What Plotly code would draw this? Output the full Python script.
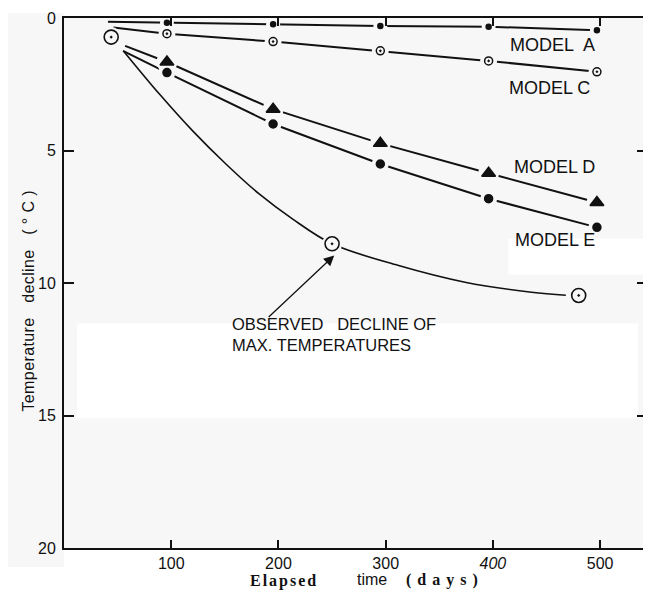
import plotly.graph_objects as go

# ---- data ----
model_days = [96, 195, 295, 396, 497]
model_a = [0.18, 0.24, 0.30, 0.33, 0.46]
model_c = [0.59, 0.89, 1.24, 1.62, 2.03]
model_d = [1.66, 3.44, 4.73, 5.86, 6.96]
model_e = [2.06, 4.00, 5.51, 6.82, 7.90]

# line start points (no marker)
start_days = {"A": 41, "C": 46, "D": 57, "E": 55}
start_vals = {"A": 0.14, "C": 0.36, "D": 1.05, "E": 1.24}

obs_days = [44, 250, 480]
obs_decline = [0.72, 8.52, 10.47]

curve_days = [56, 89, 120, 151, 182, 213, 250, 312, 374, 436, 468]
curve_decline = [1.27, 2.87, 4.26, 5.51, 6.64, 7.58, 8.52, 9.34, 9.97, 10.35, 10.46]

x_ticks = [100, 200, 300, 400, 500]
x_ticktext = ["100", "200", "300", "<i>400</i>", "500"]
y_ticks = [0, 5, 10, 15, 20]

BG = "#f7f7f7"
INK = "#111111"
FONT = "Liberation Sans"

series = [
    ("A", model_a, "circle", 5),
    ("C", model_c, "circle-open-dot", 8),
    ("D", model_d, "triangle-up", 12),
    ("E", model_e, "circle", 8),
]

fig = go.Figure()

# lines
for name, vals, sym, size in series:
    fig.add_trace(go.Scatter(
        x=[start_days[name]] + model_days, y=[start_vals[name]] + vals,
        mode="lines", line=dict(color=INK, width=2), hoverinfo="skip"))
fig.add_trace(go.Scatter(
    x=curve_days, y=curve_decline, mode="lines",
    line=dict(color=INK, width=1.6, shape="spline", smoothing=1.0), hoverinfo="skip"))

# gaps around markers (background-coloured discs)
for name, vals, sym, size in series:
    fig.add_trace(go.Scatter(
        x=model_days, y=vals, mode="markers",
        marker=dict(symbol="circle", size=size + 9, color=BG, line=dict(width=0)),
        hoverinfo="skip"))
fig.add_trace(go.Scatter(
    x=obs_days, y=obs_decline, mode="markers",
    marker=dict(symbol="circle", size=20, color=BG, line=dict(width=0)), hoverinfo="skip"))

# markers
for name, vals, sym, size in series:
    fig.add_trace(go.Scatter(
        x=model_days, y=vals, mode="markers", name="Model " + name,
        marker=dict(symbol=sym, size=size, color=INK, line=dict(color=INK, width=1.5))))
fig.add_trace(go.Scatter(
    x=obs_days, y=obs_decline, mode="markers", name="Observed",
    marker=dict(symbol="circle-open-dot", size=14, color=INK, line=dict(color=INK, width=1.6))))

# page has an 8px body margin: figure is placed at (8, 8)
OFF = 8
W, H = 651 - OFF, 592 - OFF
L, R, T, B = 64 - OFF, 2, 17 - OFF, 44
pw, ph = W - L - R, H - T - B


def px(xp):  # page pixel -> paper x
    return (xp - OFF - L) / pw


def py(yp):  # page pixel -> paper y
    return (H - B - (yp - OFF)) / ph


shapes = [
    dict(type="rect", xref="paper", yref="paper", x0=px(7), x1=px(64), y0=py(567), y1=py(12),
         fillcolor=BG, line=dict(width=0), layer="below"),
    dict(type="rect", xref="paper", yref="paper", x0=px(77), x1=px(640), y0=py(418), y1=py(323),
         fillcolor="white", line=dict(width=0), layer="below"),
    dict(type="rect", xref="paper", yref="paper", x0=px(510), x1=px(649), y0=py(274), y1=py(238),
         fillcolor="white", line=dict(width=0), layer="below"),
]

label_font = dict(family=FONT, size=18, color=INK)
SERIF_B = "font-family:'Liberation Serif';font-weight:bold;"
annotations = [
    dict(x=456, y=1.02, text="MODEL\u00a0 A", showarrow=False, font=label_font, xanchor="center"),
    dict(x=453, y=2.64, text="MODEL C", showarrow=False, font=label_font, xanchor="center"),
    dict(x=457, y=5.61, text="MODEL D", showarrow=False, font=label_font, xanchor="center"),
    dict(x=458, y=8.36, text="MODEL E", showarrow=False, font=label_font, xanchor="center"),
    dict(xref="paper", yref="paper", x=px(231), y=py(334), xanchor="left", yanchor="middle",
         align="left", showarrow=False,
         text="OBSERVED\u00a0\u00a0 DECLINE OF<br>MAX. TEMPERATURES",
         font=dict(family=FONT, size=16.5, color=INK)),
    dict(x=252, y=8.96, ax=-67, ay=63, text="", showarrow=True, arrowhead=2, arrowsize=1.6,
         arrowwidth=1.3, arrowcolor=INK, standoff=0),
    # y axis title
    dict(xref="paper", yref="paper", x=px(28), y=py(300), textangle=-90, showarrow=False,
         xanchor="center", yanchor="middle",
         text="<span style=\"letter-spacing:0.4px\">Temperature\u00a0\u00a0 decline\u00a0\u00a0 ( ° C )</span>",
         font=dict(family=FONT, size=16, color=INK)),
    # x axis title pieces
    dict(xref="paper", yref="paper", x=px(285), y=py(581), showarrow=False, borderpad=0,
         xanchor="center", yanchor="middle",
         text="<span style=\"" + SERIF_B + "letter-spacing:2px\">Elapsed</span>",
         font=dict(family=FONT, size=16, color=INK)),
    dict(xref="paper", yref="paper", x=px(373), y=py(580), showarrow=False, borderpad=0,
         xanchor="center", yanchor="middle", text="time",
         font=dict(family=FONT, size=16, color=INK)),
    dict(xref="paper", yref="paper", x=px(446), y=py(580), showarrow=False, borderpad=0,
         xanchor="center", yanchor="middle",
         text="<span style=\"" + SERIF_B + "letter-spacing:6px\">(days)</span>",
         font=dict(family=FONT, size=16, color=INK)),
]

fig.update_layout(
    width=W, height=H, autosize=False,
    margin=dict(l=L, r=R, t=T, b=B),
    paper_bgcolor="white", plot_bgcolor=BG,
    showlegend=False,
    shapes=shapes, annotations=annotations,
    xaxis=dict(range=[0, 543.7], tickvals=x_ticks, ticktext=x_ticktext,
               ticks="inside", ticklen=8, tickwidth=1.5, tickcolor=INK,
               showline=True, linewidth=2, linecolor=INK, mirror="ticks",
               showgrid=False, zeroline=False, ticklabelstandoff=0,
               tickfont=dict(family=FONT, size=16, color=INK)),
    yaxis=dict(range=[20, 0], tickvals=y_ticks,
               ticks="inside", ticklen=10, tickwidth=1.5, tickcolor=INK,
               showline=True, linewidth=2, linecolor=INK, mirror="ticks",
               showgrid=False, zeroline=False, ticklabelstandoff=3,
               tickfont=dict(family=FONT, size=16, color=INK)),
)

fig.write_html("out.html")
